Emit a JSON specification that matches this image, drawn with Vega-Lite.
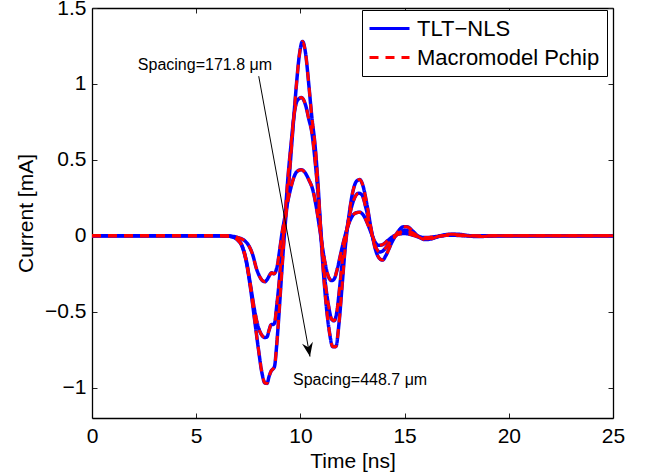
{
  "$schema": "https://vega.github.io/schema/vega-lite/v6.json",
  "width": 521,
  "height": 410,
  "autosize": {"type": "none"},
  "padding": {"left": 92, "top": 8, "right": 32, "bottom": 57},
  "background": "white",
  "config": {
    "view": {"stroke": null},
    "font": "Liberation Sans",
    "axis": {
      "grid": false,
      "domainColor": "black",
      "domainWidth": 1.3,
      "tickColor": "#222222",
      "tickWidth": 1,
      "labelColor": "black",
      "titleColor": "black",
      "labelFont": "Liberation Sans",
      "titleFont": "Liberation Sans",
      "labelFontSize": 21,
      "titleFontSize": 21,
      "titleFontWeight": "normal",
      "labelFlush": false
    },
    "legend": {
      "orient": "none", "legendX": 270, "legendY": 2, "title": null,
      "strokeColor": "black", "fillColor": "white", "padding": 7,
      "symbolType": "M-2,0L2,0", "symbolSize": 400, "symbolStrokeWidth": 3, "symbolOffset": 9,
      "labelFontSize": 22, "labelFont": "Liberation Sans", "labelColor": "black",
      "labelOffset": 16, "rowPadding": 6, "labelLimit": 400
    }
  },
  "datasets": {
    "curves": [
      {"c": "s1", "t": 0, "i": 0}, {"c": "s1", "t": 5, "i": 0}, {"c": "s1", "t": 6, "i": 0}, {"c": "s1", "t": 6.6, "i": -0.002}, {"c": "s1", "t": 7.0, "i": -0.012}, {"c": "s1", "t": 7.3, "i": -0.03}, {"c": "s1", "t": 7.5, "i": -0.06}, {"c": "s1", "t": 7.7, "i": -0.12}, {"c": "s1", "t": 7.9, "i": -0.22}, {"c": "s1", "t": 8.05, "i": -0.27}, {"c": "s1", "t": 8.2, "i": -0.298}, {"c": "s1", "t": 8.3, "i": -0.302}, {"c": "s1", "t": 8.42, "i": -0.285}, {"c": "s1", "t": 8.52, "i": -0.26}, {"c": "s1", "t": 8.62, "i": -0.243}, {"c": "s1", "t": 8.72, "i": -0.25}, {"c": "s1", "t": 8.8, "i": -0.24}, {"c": "s1", "t": 8.9, "i": -0.19}, {"c": "s1", "t": 9.0, "i": -0.1}, {"c": "s1", "t": 9.1, "i": 0.0}, {"c": "s1", "t": 9.25, "i": 0.12}, {"c": "s1", "t": 9.4, "i": 0.23}, {"c": "s1", "t": 9.55, "i": 0.32}, {"c": "s1", "t": 9.7, "i": 0.39}, {"c": "s1", "t": 9.85, "i": 0.425}, {"c": "s1", "t": 10.05, "i": 0.435}, {"c": "s1", "t": 10.2, "i": 0.42}, {"c": "s1", "t": 10.4, "i": 0.37}, {"c": "s1", "t": 10.6, "i": 0.3}, {"c": "s1", "t": 10.75, "i": 0.2}, {"c": "s1", "t": 10.9, "i": 0.07}, {"c": "s1", "t": 11.05, "i": -0.07}, {"c": "s1", "t": 11.2, "i": -0.19}, {"c": "s1", "t": 11.35, "i": -0.27}, {"c": "s1", "t": 11.5, "i": -0.295}, {"c": "s1", "t": 11.62, "i": -0.285}, {"c": "s1", "t": 11.75, "i": -0.23}, {"c": "s1", "t": 11.9, "i": -0.14}, {"c": "s1", "t": 12.05, "i": -0.05}, {"c": "s1", "t": 12.25, "i": 0.05}, {"c": "s1", "t": 12.45, "i": 0.12}, {"c": "s1", "t": 12.65, "i": 0.15}, {"c": "s1", "t": 12.85, "i": 0.155}, {"c": "s1", "t": 13.05, "i": 0.13}, {"c": "s1", "t": 13.25, "i": 0.07}, {"c": "s1", "t": 13.45, "i": 0.0}, {"c": "s1", "t": 13.6, "i": -0.045}, {"c": "s1", "t": 13.75, "i": -0.063}, {"c": "s1", "t": 13.95, "i": -0.058}, {"c": "s1", "t": 14.2, "i": -0.03}, {"c": "s1", "t": 14.5, "i": 0.0}, {"c": "s1", "t": 14.8, "i": 0.013}, {"c": "s1", "t": 15.0, "i": 0.015}, {"c": "s1", "t": 15.3, "i": 0.008}, {"c": "s1", "t": 15.7, "i": -0.008}, {"c": "s1", "t": 16.0, "i": -0.012}, {"c": "s1", "t": 16.5, "i": -0.005}, {"c": "s1", "t": 17.2, "i": 0.004}, {"c": "s1", "t": 18, "i": 0}, {"c": "s1", "t": 25, "i": 0},

      {"c": "s2", "t": 0, "i": 0}, {"c": "s2", "t": 5, "i": 0}, {"c": "s2", "t": 6, "i": 0}, {"c": "s2", "t": 6.5, "i": -0.002}, {"c": "s2", "t": 6.8, "i": -0.009}, {"c": "s2", "t": 7.0, "i": -0.027}, {"c": "s2", "t": 7.2, "i": -0.065}, {"c": "s2", "t": 7.4, "i": -0.16}, {"c": "s2", "t": 7.6, "i": -0.32}, {"c": "s2", "t": 7.8, "i": -0.49}, {"c": "s2", "t": 8.0, "i": -0.61}, {"c": "s2", "t": 8.15, "i": -0.655}, {"c": "s2", "t": 8.3, "i": -0.67}, {"c": "s2", "t": 8.4, "i": -0.665}, {"c": "s2", "t": 8.5, "i": -0.62}, {"c": "s2", "t": 8.6, "i": -0.585}, {"c": "s2", "t": 8.68, "i": -0.585}, {"c": "s2", "t": 8.76, "i": -0.575}, {"c": "s2", "t": 8.85, "i": -0.48}, {"c": "s2", "t": 8.95, "i": -0.35}, {"c": "s2", "t": 9.1, "i": -0.12}, {"c": "s2", "t": 9.25, "i": 0.1}, {"c": "s2", "t": 9.4, "i": 0.38}, {"c": "s2", "t": 9.55, "i": 0.6}, {"c": "s2", "t": 9.7, "i": 0.8}, {"c": "s2", "t": 9.85, "i": 0.89}, {"c": "s2", "t": 10.05, "i": 0.91}, {"c": "s2", "t": 10.25, "i": 0.86}, {"c": "s2", "t": 10.4, "i": 0.77}, {"c": "s2", "t": 10.55, "i": 0.68}, {"c": "s2", "t": 10.7, "i": 0.5}, {"c": "s2", "t": 10.85, "i": 0.27}, {"c": "s2", "t": 11.0, "i": 0.0}, {"c": "s2", "t": 11.15, "i": -0.25}, {"c": "s2", "t": 11.35, "i": -0.46}, {"c": "s2", "t": 11.5, "i": -0.55}, {"c": "s2", "t": 11.62, "i": -0.56}, {"c": "s2", "t": 11.75, "i": -0.5}, {"c": "s2", "t": 11.9, "i": -0.32}, {"c": "s2", "t": 12.05, "i": -0.12}, {"c": "s2", "t": 12.2, "i": 0.02}, {"c": "s2", "t": 12.4, "i": 0.16}, {"c": "s2", "t": 12.6, "i": 0.25}, {"c": "s2", "t": 12.8, "i": 0.28}, {"c": "s2", "t": 12.95, "i": 0.27}, {"c": "s2", "t": 13.15, "i": 0.18}, {"c": "s2", "t": 13.35, "i": 0.06}, {"c": "s2", "t": 13.55, "i": -0.05}, {"c": "s2", "t": 13.8, "i": -0.107}, {"c": "s2", "t": 13.95, "i": -0.1}, {"c": "s2", "t": 14.2, "i": -0.06}, {"c": "s2", "t": 14.5, "i": -0.01}, {"c": "s2", "t": 14.8, "i": 0.025}, {"c": "s2", "t": 15.0, "i": 0.036}, {"c": "s2", "t": 15.3, "i": 0.025}, {"c": "s2", "t": 15.7, "i": -0.005}, {"c": "s2", "t": 16.0, "i": -0.02}, {"c": "s2", "t": 16.4, "i": -0.012}, {"c": "s2", "t": 16.8, "i": 0.0}, {"c": "s2", "t": 17.3, "i": 0.008}, {"c": "s2", "t": 17.8, "i": 0.005}, {"c": "s2", "t": 18.5, "i": -0.003}, {"c": "s2", "t": 19.5, "i": 0}, {"c": "s2", "t": 25, "i": 0},

      {"c": "s3", "t": 0, "i": 0}, {"c": "s3", "t": 5, "i": 0}, {"c": "s3", "t": 6, "i": 0}, {"c": "s3", "t": 6.5, "i": -0.002}, {"c": "s3", "t": 6.8, "i": -0.01}, {"c": "s3", "t": 7.0, "i": -0.03}, {"c": "s3", "t": 7.2, "i": -0.07}, {"c": "s3", "t": 7.4, "i": -0.17}, {"c": "s3", "t": 7.6, "i": -0.34}, {"c": "s3", "t": 7.8, "i": -0.55}, {"c": "s3", "t": 8.0, "i": -0.76}, {"c": "s3", "t": 8.15, "i": -0.9}, {"c": "s3", "t": 8.3, "i": -0.97}, {"c": "s3", "t": 8.4, "i": -0.972}, {"c": "s3", "t": 8.5, "i": -0.925}, {"c": "s3", "t": 8.6, "i": -0.89}, {"c": "s3", "t": 8.68, "i": -0.878}, {"c": "s3", "t": 8.76, "i": -0.86}, {"c": "s3", "t": 8.85, "i": -0.74}, {"c": "s3", "t": 8.95, "i": -0.56}, {"c": "s3", "t": 9.1, "i": -0.25}, {"c": "s3", "t": 9.25, "i": 0.04}, {"c": "s3", "t": 9.4, "i": 0.27}, {"c": "s3", "t": 9.5, "i": 0.45}, {"c": "s3", "t": 9.65, "i": 0.72}, {"c": "s3", "t": 9.8, "i": 0.98}, {"c": "s3", "t": 9.95, "i": 1.19}, {"c": "s3", "t": 10.1, "i": 1.28}, {"c": "s3", "t": 10.25, "i": 1.2}, {"c": "s3", "t": 10.4, "i": 1.0}, {"c": "s3", "t": 10.55, "i": 0.78}, {"c": "s3", "t": 10.7, "i": 0.6}, {"c": "s3", "t": 10.85, "i": 0.33}, {"c": "s3", "t": 11.0, "i": -0.03}, {"c": "s3", "t": 11.2, "i": -0.4}, {"c": "s3", "t": 11.4, "i": -0.64}, {"c": "s3", "t": 11.55, "i": -0.73}, {"c": "s3", "t": 11.7, "i": -0.73}, {"c": "s3", "t": 11.85, "i": -0.58}, {"c": "s3", "t": 12.0, "i": -0.33}, {"c": "s3", "t": 12.15, "i": -0.08}, {"c": "s3", "t": 12.3, "i": 0.1}, {"c": "s3", "t": 12.5, "i": 0.28}, {"c": "s3", "t": 12.7, "i": 0.36}, {"c": "s3", "t": 12.85, "i": 0.37}, {"c": "s3", "t": 13.0, "i": 0.33}, {"c": "s3", "t": 13.2, "i": 0.2}, {"c": "s3", "t": 13.4, "i": 0.04}, {"c": "s3", "t": 13.6, "i": -0.09}, {"c": "s3", "t": 13.8, "i": -0.15}, {"c": "s3", "t": 13.95, "i": -0.16}, {"c": "s3", "t": 14.1, "i": -0.13}, {"c": "s3", "t": 14.4, "i": -0.04}, {"c": "s3", "t": 14.7, "i": 0.03}, {"c": "s3", "t": 14.95, "i": 0.06}, {"c": "s3", "t": 15.1, "i": 0.06}, {"c": "s3", "t": 15.4, "i": 0.03}, {"c": "s3", "t": 15.7, "i": -0.01}, {"c": "s3", "t": 16.0, "i": -0.025}, {"c": "s3", "t": 16.3, "i": -0.02}, {"c": "s3", "t": 16.7, "i": 0.0}, {"c": "s3", "t": 17.2, "i": 0.01}, {"c": "s3", "t": 17.6, "i": 0.01}, {"c": "s3", "t": 18.0, "i": 0.0}, {"c": "s3", "t": 18.5, "i": -0.005}, {"c": "s3", "t": 19.5, "i": 0}, {"c": "s3", "t": 25, "i": 0}
    ],
    "notes": [
      {"t": 2.2, "i": 1.095, "label": "Spacing=171.8 μm"},
      {"t": 9.645, "i": -0.98, "label": "Spacing=448.7 μm"}
    ],
    "arrow": [
      {"t1": 8.0, "i1": 1.051, "t2": 10.46, "i2": -0.7955}
    ]
  },
  "layer": [
    {
      "data": {"name": "curves"},
      "mark": {"type": "line", "strokeWidth": 3.5, "interpolate": "monotone"},
      "encoding": {
        "x": {"field": "t", "type": "quantitative", "scale": {"domain": [0, 25], "nice": false, "zero": false},
          "axis": {"values": [0, 5, 10, 15, 20, 25], "format": "d", "title": "Time [ns]", "tickSize": -5, "labelPadding": 12, "titlePadding": 4}},
        "y": {"field": "i", "type": "quantitative", "scale": {"domain": [-1.2, 1.5], "nice": false, "zero": false},
          "axis": {"values": [-1, -0.5, 0, 0.5, 1, 1.5], "format": "~g", "title": "Current [mA]", "tickSize": -5, "labelPadding": 11, "titlePadding": 8}},
        "detail": {"field": "c"},
        "color": {"datum": "TLT−NLS", "scale": {"domain": ["TLT−NLS", "Macromodel Pchip"], "range": ["#0000ff", "#ff0000"]}},
        "strokeDash": {"datum": "TLT−NLS", "scale": {"domain": ["TLT−NLS", "Macromodel Pchip"], "range": [[1, 0], [9, 7]]}}
      }
    },
    {
      "data": {"name": "curves"},
      "mark": {"type": "line", "strokeWidth": 3, "interpolate": "monotone"},
      "encoding": {
        "x": {"field": "t", "type": "quantitative", "scale": {"domain": [0, 25], "nice": false, "zero": false}, "axis": null},
        "y": {"field": "i", "type": "quantitative", "scale": {"domain": [-1.2, 1.5], "nice": false, "zero": false}, "axis": null},
        "detail": {"field": "c"},
        "color": {"datum": "Macromodel Pchip"},
        "strokeDash": {"datum": "Macromodel Pchip"}
      }
    },
    {
      "data": {"name": "arrow"},
      "mark": {"type": "rule", "color": "black", "strokeWidth": 1},
      "encoding": {
        "x": {"field": "t1", "type": "quantitative", "scale": {"domain": [0, 25], "nice": false, "zero": false},
          "axis": {"orient": "top", "values": [0, 5, 10, 15, 20, 25], "labels": false, "title": null, "tickSize": -5}},
        "y": {"field": "i1", "type": "quantitative", "scale": {"domain": [-1.2, 1.5], "nice": false, "zero": false},
          "axis": {"orient": "right", "values": [-1, -0.5, 0, 0.5, 1, 1.5], "labels": false, "title": null, "tickSize": -5}},
        "x2": {"field": "t2"},
        "y2": {"field": "i2"}
      }
    },
    {
      "data": {"name": "arrow"},
      "mark": {"type": "point", "shape": "M0,0 L-0.55,-1.4 L0,-0.95 L0.55,-1.4 Z", "size": 400, "filled": true, "color": "black", "opacity": 1, "angle": 349.6},
      "encoding": {
        "x": {"field": "t2", "type": "quantitative", "axis": null},
        "y": {"field": "i2", "type": "quantitative", "axis": null}
      }
    },
    {
      "data": {"name": "notes"},
      "mark": {"type": "text", "align": "left", "baseline": "alphabetic", "fontSize": 16, "font": "Liberation Sans", "color": "black"},
      "encoding": {
        "x": {"field": "t", "type": "quantitative", "axis": null},
        "y": {"field": "i", "type": "quantitative", "axis": null},
        "text": {"field": "label"}
      }
    }
  ],
  "resolve": {"axis": {"x": "independent", "y": "independent"}}
}
